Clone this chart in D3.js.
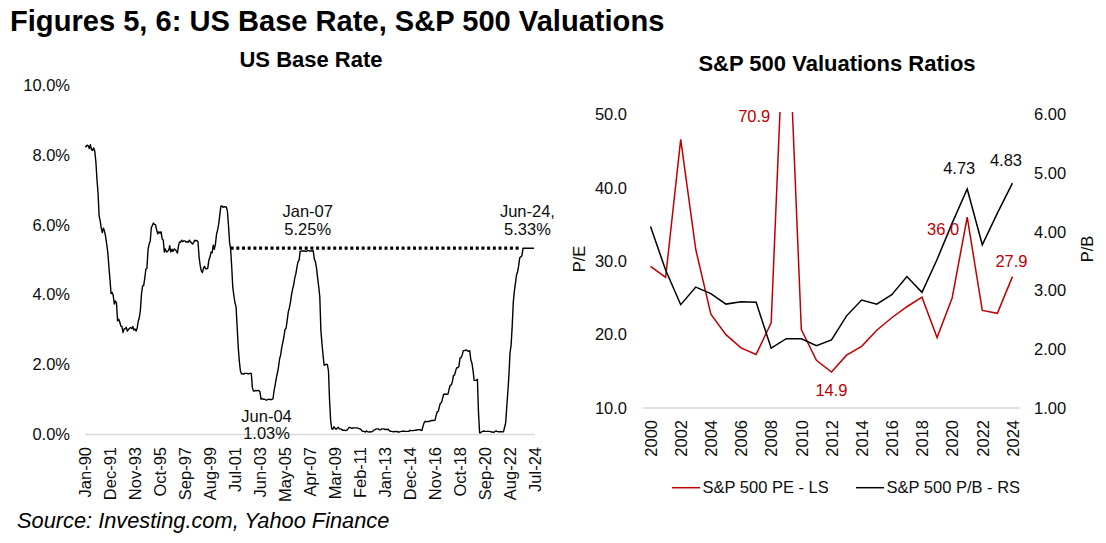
<!DOCTYPE html>
<html><head><meta charset="utf-8">
<script src="https://cdn.jsdelivr.net/npm/d3@7"></script>
<style>
body{margin:0;background:#fff;}
svg{display:block;font-family:"Liberation Sans",Arial,sans-serif;}
</style></head><body>
<svg id="c" width="1106" height="543"></svg>
<script>
// ---------------- DATA ----------------
// US base rate, monthly from Jan-1990 to Jun-2024 (%)
const rateStartYear = 1990;
const baseRate = [
 8.23,8.24,8.28,8.26,8.18,8.29,8.15,8.13,8.20,8.11,7.81,7.31,
 6.91,6.25,6.12,5.91,5.78,5.90,5.82,5.66,5.45,5.21,4.81,4.43,
 4.03,4.06,3.98,3.73,3.82,3.76,3.25,3.30,3.22,3.10,3.09,2.92,
 3.02,3.03,3.07,2.96,3.00,3.04,3.06,3.03,3.09,2.99,3.02,2.96,
 3.05,3.25,3.34,3.56,4.01,4.25,4.26,4.47,4.73,4.76,5.29,5.45,
 5.53,5.92,5.98,6.05,6.01,6.00,5.85,5.74,5.80,5.76,5.80,5.60,
 5.56,5.22,5.31,5.22,5.24,5.27,5.40,5.22,5.30,5.24,5.31,5.29,
 5.25,5.19,5.39,5.51,5.50,5.56,5.52,5.54,5.54,5.50,5.52,5.50,
 5.56,5.51,5.49,5.45,5.49,5.56,5.54,5.55,5.51,5.07,4.83,4.68,
 4.63,4.76,4.81,4.74,4.74,4.76,4.99,5.07,5.22,5.20,5.42,5.30,
 5.45,5.73,5.85,6.02,6.27,6.53,6.54,6.50,6.52,6.51,6.51,6.40,
 5.98,5.49,5.31,4.80,4.21,3.97,3.77,3.65,3.07,2.49,2.09,1.82,
 1.73,1.74,1.73,1.75,1.75,1.75,1.73,1.74,1.75,1.75,1.34,1.24,
 1.24,1.26,1.25,1.26,1.26,1.22,1.01,1.03,1.01,1.01,1.00,0.98,
 1.00,1.01,1.00,1.00,1.00,1.03,1.26,1.43,1.61,1.76,1.93,2.16,
 2.28,2.50,2.63,2.79,3.00,3.04,3.26,3.50,3.62,3.78,4.00,4.16,
 4.29,4.49,4.59,4.79,4.94,4.99,5.24,5.25,5.25,5.25,5.25,5.24,
 5.25,5.26,5.26,5.25,5.25,5.25,5.26,5.02,4.94,4.76,4.49,4.24,
 3.94,2.98,2.61,2.28,1.98,2.00,2.01,2.00,1.81,0.97,0.39,0.16,
 0.15,0.22,0.18,0.15,0.18,0.21,0.16,0.16,0.15,0.12,0.12,0.12,
 0.11,0.13,0.16,0.20,0.20,0.18,0.18,0.19,0.19,0.19,0.19,0.18,
 0.17,0.16,0.14,0.10,0.09,0.09,0.07,0.10,0.08,0.07,0.08,0.07,
 0.08,0.10,0.13,0.14,0.16,0.16,0.16,0.13,0.14,0.16,0.16,0.16,
 0.14,0.15,0.14,0.15,0.11,0.09,0.09,0.08,0.08,0.09,0.08,0.09,
 0.07,0.07,0.08,0.09,0.09,0.10,0.09,0.09,0.09,0.09,0.09,0.12,
 0.11,0.11,0.11,0.12,0.12,0.13,0.13,0.14,0.14,0.12,0.12,0.24,
 0.34,0.38,0.36,0.37,0.37,0.38,0.39,0.40,0.40,0.40,0.41,0.54,
 0.65,0.66,0.79,0.90,0.91,1.04,1.15,1.16,1.15,1.15,1.16,1.30,
 1.41,1.42,1.51,1.69,1.70,1.82,1.91,1.91,1.95,2.19,2.20,2.27,
 2.40,2.40,2.41,2.42,2.39,2.38,2.40,2.13,2.04,1.83,1.55,1.55,
 1.55,1.58,0.65,0.05,0.05,0.08,0.09,0.10,0.09,0.09,0.09,0.09,
 0.09,0.08,0.07,0.07,0.06,0.08,0.10,0.09,0.08,0.08,0.08,0.08,
 0.08,0.08,0.20,0.33,0.77,1.21,1.68,2.33,2.56,3.08,3.78,4.10,
 4.33,4.57,4.65,4.83,5.06,5.08,5.12,5.33,5.33,5.33,5.33,5.33,
 5.33,5.33,5.33,5.33,5.33,5.33
];
const rateTickLabels = ["Jan-90","Dec-91","Nov-93","Oct-95","Sep-97","Aug-99","Jul-01","Jun-03","May-05",
  "Apr-07","Mar-09","Feb-11","Jan-13","Dec-14","Nov-16","Oct-18","Sep-20","Aug-22","Jul-24"];
const rateYTicks = [0, 2, 4, 6, 8, 10];
const refLineDates = ["Mar-01", "Jun-23"];
const refLineValue = 5.33;
const rateNoteDates = ["Jan-07", "Jun-24", "Jun-04"];
const rateNoteTexts = [["Jan-07","5.25%"], ["Jun-24,","5.33%"], ["Jun-04","1.03%"]];

// S&P 500 valuations
const years = ["2000","2001","2002","2003","2004","2005","2006","2007","2008","2009","2010","2011","2012",
  "2013","2014","2015","2016","2017","2018","2019","2020","2021","2022","2023","2024"];
const yearTickLabels = ["2000","2002","2004","2006","2008","2010","2012","2014","2016","2018","2020","2022","2024"];
const peValues = [29.3,27.8,46.6,31.6,22.8,20.0,18.2,17.3,21.6,70.9,20.7,16.5,14.9,17.2,18.4,20.6,22.3,23.8,25.1,19.6,25.0,36.0,23.3,22.9,27.9];
const pbValues = [4.09,3.35,2.76,3.06,2.95,2.77,2.81,2.80,2.02,2.18,2.18,2.06,2.16,2.57,2.84,2.77,2.93,3.24,2.97,3.53,4.15,4.73,3.78,4.32,4.83];
const peTicks = [10, 20, 30, 40, 50];
const pbTicks = [1, 2, 3, 4, 5, 6];
const peLabelYears = ["2009","2012","2021","2024"];
const pbLabelYears = ["2021","2024"];
const legendLabels = ["S&P 500 PE - LS", "S&P 500 P/B - RS"];

// ---------------- DRAW ----------------
const RED = "#c00000", INK = "#0d0d0d", GRID = "#d9d9d9";
const svg = d3.select("#c");
const parseM = d3.timeParse("%b-%y");

svg.append("text").attr("x", 10).attr("y", 31)
  .attr("font-size", 29.1).attr("font-weight", "bold").attr("fill", "#000")
  .text("Figures 5, 6: US Base Rate, S&P 500 Valuations");

// ---- Left chart ----
const lx = d3.scaleTime().domain([parseM("Jan-90"), parseM("Jul-24")]).range([85, 535]);
const ly = d3.scaleLinear().domain([0, 10]).range([434.5, 85]);
const rateData = baseRate.map((v, i) => ({d: new Date(rateStartYear, i, 1), v}));

svg.append("text").attr("x", 311).attr("y", 67).attr("text-anchor", "middle")
  .attr("font-size", 22).attr("font-weight", "bold").text("US Base Rate");

svg.append("line").attr("x1", 85).attr("x2", 535).attr("y1", ly(0)).attr("y2", ly(0))
  .attr("stroke", GRID).attr("stroke-width", 1.3);

const lyAxis = svg.append("g").attr("transform", "translate(70,0)")
  .call(d3.axisLeft(ly).tickValues(rateYTicks).tickSize(0).tickFormat(d => d3.format(".1f")(d) + "%"));
lyAxis.select(".domain").remove();
lyAxis.selectAll("text").attr("font-size", 16.5).attr("fill", INK).attr("x", 0)
  .attr("font-family", "Liberation Sans, Arial, sans-serif");

const lxAxis = svg.append("g").attr("transform", "translate(0,447)")
  .call(d3.axisBottom(lx).tickValues(rateTickLabels.map(parseM)).tickSize(0).tickFormat(d3.timeFormat("%b-%y")));
lxAxis.select(".domain").remove();
lxAxis.selectAll("text").attr("font-size", 16.5).attr("fill", INK)
  .attr("font-family", "Liberation Sans, Arial, sans-serif")
  .attr("text-anchor", "end").attr("transform", "rotate(-90)")
  .attr("x", 0).attr("y", 0).attr("dy", "0.35em");

svg.append("path").datum(refLineDates.map(s => ({d: parseM(s), v: refLineValue})))
  .attr("d", d3.line().x(p => lx(p.d)).y(p => ly(p.v)))
  .attr("stroke", "#000").attr("stroke-width", 3.3).attr("stroke-dasharray", "3,2.7").attr("fill", "none");

svg.append("path").datum(rateData)
  .attr("d", d3.line().x(p => lx(p.d)).y(p => ly(p.v)))
  .attr("stroke", "#000").attr("stroke-width", 1.4).attr("fill", "none").attr("stroke-linejoin", "round");

const noteOff = [{dx: 1, y: [216.7, 235]}, {dx: -6.5, y: [216.7, 235]}, {dx: -6.5, y: [421.7, 439.3]}];
rateNoteDates.forEach((s, i) => {
  rateNoteTexts[i].forEach((t, j) => {
    svg.append("text").attr("x", lx(parseM(s)) + noteOff[i].dx).attr("y", noteOff[i].y[j])
      .attr("text-anchor", "middle").attr("font-size", 16.5).attr("fill", INK).text(t);
  });
});

// ---- Right chart ----
const rx = d3.scalePoint().domain(years).range([643, 1020]).padding(0.5);
const ryL = d3.scaleLinear().domain([10, 50]).range([408, 114.5]);
const ryR = d3.scaleLinear().domain([1, 6]).range([408, 114.5]);

svg.append("text").attr("x", 837).attr("y", 71).attr("text-anchor", "middle")
  .attr("font-size", 22).attr("font-weight", "bold").text("S&P 500 Valuations Ratios");

svg.append("line").attr("x1", 643).attr("x2", 1020).attr("y1", ryL(10)).attr("y2", ryL(10))
  .attr("stroke", GRID).attr("stroke-width", 1.3);

const ryLAxis = svg.append("g").attr("transform", "translate(627,0)")
  .call(d3.axisLeft(ryL).tickValues(peTicks).tickSize(0).tickFormat(d3.format(".1f")));
ryLAxis.select(".domain").remove();
ryLAxis.selectAll("text").attr("font-size", 16.5).attr("fill", INK).attr("x", 0)
  .attr("font-family", "Liberation Sans, Arial, sans-serif");

const ryRAxis = svg.append("g").attr("transform", "translate(1034,0)")
  .call(d3.axisRight(ryR).tickValues(pbTicks).tickSize(0).tickFormat(d3.format(".2f")));
ryRAxis.select(".domain").remove();
ryRAxis.selectAll("text").attr("font-size", 16.5).attr("fill", INK).attr("x", 0)
  .attr("font-family", "Liberation Sans, Arial, sans-serif");

const rxAxis = svg.append("g").attr("transform", "translate(0,420)")
  .call(d3.axisBottom(rx).tickValues(yearTickLabels).tickSize(0));
rxAxis.select(".domain").remove();
rxAxis.selectAll("text").attr("font-size", 16.5).attr("fill", INK)
  .attr("font-family", "Liberation Sans, Arial, sans-serif")
  .attr("text-anchor", "end").attr("transform", "rotate(-90)")
  .attr("x", 0).attr("y", 0).attr("dy", "0.35em");

svg.append("text").attr("transform", "translate(585,259) rotate(-90)").attr("text-anchor", "middle")
  .attr("font-size", 16.5).attr("fill", INK).text("P/E");
svg.append("text").attr("transform", "translate(1093,249) rotate(-90)").attr("text-anchor", "middle")
  .attr("font-size", 16.5).attr("fill", INK).text("P/B");

svg.append("defs").append("clipPath").attr("id", "plotR")
  .append("rect").attr("x", 600).attr("y", 112).attr("width", 440).attr("height", 310);

const gR = svg.append("g").attr("clip-path", "url(#plotR)");
gR.append("path").datum(years.map((y, i) => ({y, v: peValues[i]})))
  .attr("d", d3.line().x(p => rx(p.y)).y(p => ryL(p.v)))
  .attr("stroke", RED).attr("stroke-width", 1.5).attr("fill", "none");
gR.append("path").datum(years.map((y, i) => ({y, v: pbValues[i]})))
  .attr("d", d3.line().x(p => rx(p.y)).y(p => ryR(p.v)))
  .attr("stroke", "#000").attr("stroke-width", 1.5).attr("fill", "none");

// data labels
const peOff = {"2009": {a: "end", dx: -16, top: true, dy: 8}, "2012": {a: "middle", dx: 0, dy: 24},
  "2021": {a: "end", dx: -8, dy: 18}, "2024": {a: "middle", dx: -1, dy: -10}};
peLabelYears.forEach(y => {
  const v = peValues[years.indexOf(y)], o = peOff[y];
  const yy = o.top ? 114 + o.dy : ryL(v) + o.dy;
  svg.append("text").attr("x", rx(y) + o.dx).attr("y", yy).attr("text-anchor", o.a)
    .attr("font-size", 16.5).attr("fill", RED).text(d3.format(".1f")(v));
});
const pbOff = {"2021": {dx: -8, dy: -15}, "2024": {dx: -6.5, dy: -17}};
pbLabelYears.forEach(y => {
  const v = pbValues[years.indexOf(y)], o = pbOff[y];
  svg.append("text").attr("x", rx(y) + o.dx).attr("y", ryR(v) + o.dy).attr("text-anchor", "middle")
    .attr("font-size", 16.5).attr("fill", INK).text(d3.format(".2f")(v));
});

// legend
const leg = [{x: 672, c: RED}, {x: 856, c: "#000"}];
legendLabels.forEach((t, i) => {
  svg.append("line").attr("x1", leg[i].x).attr("x2", leg[i].x + 28).attr("y1", 487.7).attr("y2", 487.7)
    .attr("stroke", leg[i].c).attr("stroke-width", 1.5);
  svg.append("text").attr("x", leg[i].x + 30.5).attr("y", 493.3).attr("font-size", 16.5).attr("fill", INK).text(t);
});

// source
svg.append("text").attr("x", 17).attr("y", 528.3).attr("font-size", 21.8).attr("font-style", "italic")
  .attr("fill", "#000").text("Source: Investing.com, Yahoo Finance");
</script>
</body></html>
